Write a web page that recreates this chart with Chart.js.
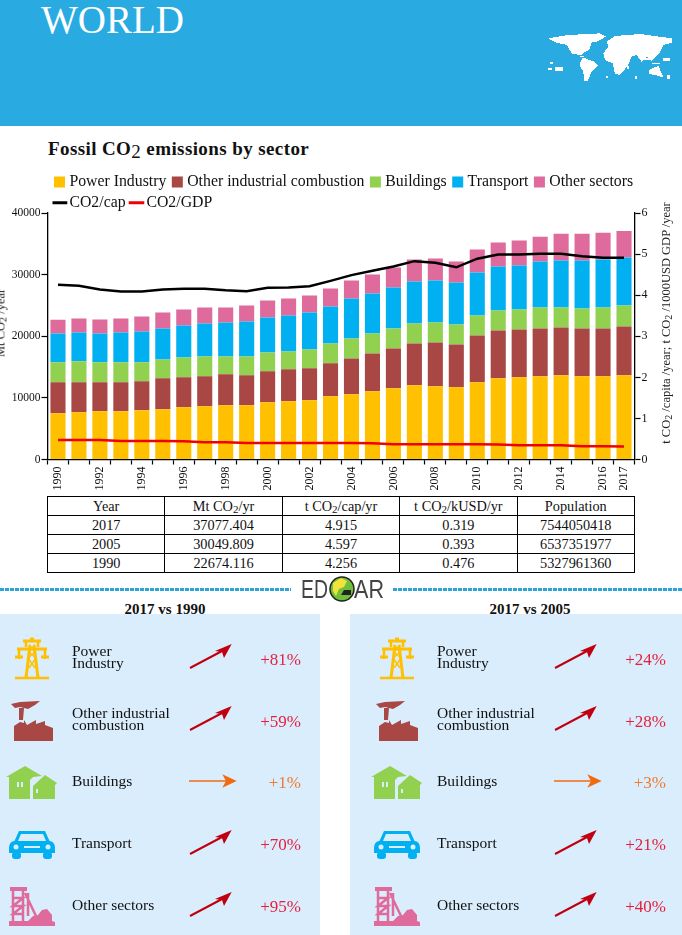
<!DOCTYPE html>
<html>
<head>
<meta charset="utf-8">
<title>WORLD - Fossil CO2 emissions by sector</title>
<script src="https://cdn.jsdelivr.net/npm/chart.js@4"></script>
<style>
html, body { margin: 0; padding: 0; background: #fff; }
body { position: relative; width: 682px; height: 935px; overflow: hidden; font-family: "Liberation Serif", serif; color: #111; }
.abs { position: absolute; }
#head { left: 0; top: 0; width: 682px; height: 126px; background: #29abe2; }
#world { left: 41px; top: -5px; font-size: 39px; color: #fff; line-height: 50px; }
#title { left: 48px; top: 137px; font-size: 19px; font-weight: bold; line-height: 24px; white-space: nowrap; letter-spacing: .4px; }
#title sub { font-size: 19px; font-weight: normal; vertical-align: -3px; line-height: 0; }
#chartBox { left: 0; top: 162px; width: 682px; height: 333px; }
.ytitle { font-size: 12.5px; white-space: nowrap; transform: translate(-50%, -50%) rotate(-90deg); color: #222; }
.ytitle sub { font-size: 10px; vertical-align: -2px; line-height: 0; }
table { left: 47px; top: 496px; width: 588px; height: 75px; border-collapse: collapse; table-layout: fixed; font-size: 14.3px; text-align: center; }
td, th { border: 1.4px solid #000; padding: 0; font-weight: normal; height: 18px; line-height: 16px; }
td sub, th sub { font-size: 11px; vertical-align: -2px; line-height: 0; }
.dots { top: 588px; height: 3px; background: repeating-linear-gradient(90deg, #2ea3d8 0 4px, transparent 4px 5px); }
.panel { top: 614px; height: 321px; background: #daedfd; }
.vs { top: 601px; font-size: 15px; font-weight: bold; width: 200px; text-align: center; line-height: 16px; }
.name { font-size: 15.5px; line-height: 12px; white-space: nowrap; }
.pct { font-size: 17px; width: 60px; text-align: right; line-height: 18px; }
svg { position: absolute; left: 0; top: 0; }
</style>
</head>
<body>
<div class="abs" id="head"></div>
<div class="abs" id="world">WORLD</div>
<div class="abs" id="title">Fossil CO<sub>2</sub> emissions by sector</div>

<div class="abs" id="chartBox"><canvas id="chart" width="682" height="333"></canvas></div>
<div class="abs ytitle" style="left:1px;top:323px">Mt CO<sub>2</sub> /year</div>
<div class="abs ytitle" style="left:666px;top:323px">t CO<sub>2</sub> /capita /year; t CO<sub>2</sub> /1000USD GDP /year</div>

<table class="abs" id="summary"></table>

<div class="abs dots" style="left:0;width:291px"></div>
<div class="abs dots" style="left:393px;width:289px"></div>
<div class="abs panel" style="left:0;width:320px"></div>
<div class="abs panel" style="left:350px;width:332px"></div>
<div class="abs vs" style="left:65px">2017 vs 1990</div>
<div class="abs vs" style="left:430px">2017 vs 2005</div>

<svg width="682" height="935" viewBox="0 0 682 935">
  <!-- map in header -->
  <g transform="translate(500 0) scale(.3333)" fill="#fff" shape-rendering="crispEdges">
    <path d="M145 115L205 105L300 100L318 110L290 125L275 128L268 150L250 158L238 172L262 172L240 166L215 160L200 135L165 127Z"/>
    <path d="M248 172L285 186L294 198L275 215L262 245L252 243L250 215L238 195Z"/>
    <path d="M320 125L345 108L420 102L515 115L515 128L490 135L478 160L455 182L440 170L425 186L410 165L395 170L385 195L360 225L345 222L338 190L315 180L310 160L325 140Z"/>
    <path d="M448 210L475 197L490 232L465 225L448 222Z"/>
    <path d="M145 203h12v6h-12zM165 200h25v12h-25zM150 185h8v6h-8zM430 175h20v5h-20zM455 188h25v5h-25zM490 175h20v8h-20zM500 225h10v12h-10zM380 198h8v10h-8zM405 228h6v8h-6zM318 228h5v5h-5z"/>
  </g>

  <!-- EDGAR logo -->
  <text x="301" y="598" font-family="Liberation Sans" font-size="25" textLength="27" lengthAdjust="spacingAndGlyphs" fill="#444">ED</text>
  <circle cx="342" cy="589" r="12" fill="#6fbf3a" stroke="#222" stroke-width="1.5"/>
  <path d="M333 583l8-5 6 3-3 6-5 2-3 7-3-5Z" fill="#f2e23a"/>
  <path d="M344 590h7v5h-10Z" fill="#222"/>
  <text x="354" y="598" font-family="Liberation Sans" font-size="25" textLength="30" lengthAdjust="spacingAndGlyphs" fill="#444">AR</text>

  <defs>
    <g id="rows">
      <!-- power tower -->
      <g fill="none" stroke="#ffc000">
        <path d="M15 678h34" stroke-width="2.5"/>
        <path d="M26 678L30 645M38 678L34 645" stroke-width="3"/>
        <path d="M29 668L36 658L29 652L35 645M35 668L28 658L35 652L29 645" stroke-width="1.4"/>
        <path d="M23 641h18M17 649h30M15 657h8M41 657h8M30 639h4" stroke-width="3"/>
        <path d="M19 649v10M45 649v10M26 641v6M38 641v6" stroke-width="2.5"/>
      </g>
      <!-- factory -->
      <g fill="#a94744">
        <path d="M11 704L20 702L40 701L35 705L28 709L20 707L15 708Z"/>
        <path d="M19 708h5l-1 12h-4Z"/>
        <path d="M14 726L20 722L24 723V720L27 725L36 720V724L45 721V725L53 728V741H14Z"/>
      </g>
      <!-- houses -->
      <g fill="#92d050">
        <path d="M6 777L25 766L42 776L33 777L30 780V799H9V777Z"/>
        <path d="M33 786L45 775L57 783L55 785V799H33Z"/>
        <path d="M17 782h2v5h-2zM21 782h2v5h-2z" fill="#daedfd"/>
        <path d="M36 789h2v4h-2z" fill="#daedfd"/>
      </g>
      <!-- car -->
      <g fill="#00b0f0">
        <path d="M19 831H45L50 842H14Z M21 834L18 841H46L43 834Z" fill-rule="evenodd"/>
        <path d="M9 848Q9 842 14 841H50Q55 842 55 848V853H9Z"/>
        <rect x="12" y="852" width="9" height="7" rx="3"/>
        <rect x="43" y="852" width="9" height="7" rx="3"/>
        <circle cx="16" cy="847" r="2.5" fill="#daedfd"/>
        <circle cx="48" cy="847" r="2.5" fill="#daedfd"/>
        <rect x="24" y="846" width="16" height="2" fill="#daedfd"/>
      </g>
      <!-- mine -->
      <g fill="#df6a9c" stroke="#df6a9c">
        <path d="M10 887h17v4H10Z" stroke-width="0"/>
        <path d="M13 891V922M23 891V922M13 898H23L13 906H23L13 914H23" fill="none" stroke-width="2.5"/>
        <path d="M25 893L36 916M28 893V916" fill="none" stroke-width="2.5"/>
        <path d="M9 921H28L33 916L38 915L42 910L47 909L52 915L52 921L55 922V926H9Z" stroke-width="0"/>
      </g>
      <!-- arrows -->
      <use href="#up" x="190" y="668"/>
      <use href="#up" x="190" y="730"/>
      <use href="#flat" x="189" y="781"/>
      <use href="#up" x="190" y="854"/>
      <use href="#up" x="190" y="916"/>
    </g>
    <g id="up">
      <path d="M0 0L33 -17.5" stroke="#c00010" stroke-width="2"/>
      <path d="M25 -17L41.7 -24L34 -10L32 -16Z" fill="#c00010"/>
    </g>
    <g id="flat">
      <path d="M0 0H38" stroke="#f26a10" stroke-width="1.6"/>
      <path d="M33.3 -6.7L47.7 0L33.3 6.7L37 0Z" fill="#f26a10"/>
    </g>
  </defs>
  <use href="#rows"/>
  <use href="#rows" x="365"/>
</svg>
<div id="rowText"></div>

<script>
const years = [1990,1991,1992,1993,1994,1995,1996,1997,1998,1999,2000,2001,2002,2003,2004,2005,2006,2007,2008,2009,2010,2011,2012,2013,2014,2015,2016,2017];
const shownYears = [1990,1992,1994,1996,1998,2000,2002,2004,2006,2008,2010,2012,2014,2016,2017];

// Mt CO2 / yr
const powerIndustry = [7506,7668,7830,7830,7992,8154,8478,8640,8802,8802,9288,9450,9612,10260,10584,11070,11556,12042,11880,11718,12528,13176,13338,13500,13662,13500,13500,13662];
const otherIndustrial = [5022,4860,4698,4698,4698,5022,4860,4860,5022,4860,5022,5184,5184,5346,5832,6156,6480,6804,7128,6966,7614,7776,7776,7776,7776,7776,7776,7938];
const buildings = [3240,3402,3240,3240,3078,3078,3240,3240,2916,3078,3078,2916,3078,3240,3240,3240,3240,3240,3240,3240,3240,3240,3240,3402,3240,3240,3402,3402];
const transport = [4698,4698,4698,4860,5022,5022,5184,5346,5508,5670,5670,5832,5994,5994,6480,6480,6642,6804,6804,6804,6966,7128,7128,7452,7614,7776,7776,7776];
const otherSectors = [2208,2268,2268,2268,2430,2592,2592,2592,2430,2592,2754,2754,2754,2916,2916,3104,3240,3564,3564,3402,3726,3888,4050,4050,4374,4374,4374,4299];

// right axis
const co2PerCap = [4.256,4.23,4.14,4.09,4.09,4.14,4.16,4.16,4.12,4.10,4.18,4.19,4.22,4.35,4.49,4.597,4.70,4.83,4.79,4.68,4.89,4.99,4.99,5.01,5.01,4.95,4.91,4.915];
const co2PerGdp = [0.476,0.476,0.475,0.45,0.45,0.448,0.445,0.42,0.42,0.40,0.40,0.40,0.40,0.40,0.40,0.393,0.37,0.37,0.37,0.37,0.37,0.365,0.35,0.35,0.35,0.325,0.322,0.319];

const tableHead = ['Year','Mt CO<sub>2</sub>/yr','t CO<sub>2</sub>/cap/yr','t CO<sub>2</sub>/kUSD/yr','Population'];
const tableRows = [
  ['2017','37077.404','4.915','0.319','7544050418'],
  ['2005','30049.809','4.597','0.393','6537351977'],
  ['1990','22674.116','4.256','0.476','5327961360']
];

const sectorNames = ['Power<br>Industry','Other industrial<br>combustion','Buildings','Transport','Other sectors'];
const nameTops = [645,707,775,837,899];
const pctTops = [651,713,774,836,898];
const pct1990 = ['+81%','+59%','+1%','+70%','+95%'];
const pct2005 = ['+24%','+28%','+3%','+21%','+40%'];

let html = '<tr>' + tableHead.map(h => '<th>' + h + '</th>').join('') + '</tr>';
tableRows.forEach(r => { html += '<tr>' + r.map(c => '<td>' + c + '</td>').join('') + '</tr>'; });
document.getElementById('summary').innerHTML = html;

let rowHtml = '';
sectorNames.forEach((n, i) => {
  [[0, pct1990], [365, pct2005]].forEach(p => {
    let col = i == 2 ? '#f07a30' : '#e5203c';
    rowHtml += '<div class="abs name" style="left:' + (72 + p[0]) + 'px;top:' + nameTops[i] + 'px">' + n + '</div>';
    rowHtml += '<div class="abs pct" style="left:' + (241 + p[0]) + 'px;top:' + pctTops[i] + 'px;color:' + col + '">' + p[1][i] + '</div>';
  });
});
document.getElementById('rowText').innerHTML = rowHtml;

Chart.defaults.font.family = '"Liberation Serif", serif';
Chart.defaults.color = '#111';

function bars(label, data, color) {
  return { type: 'bar', label: label, data: data, backgroundColor: color, borderWidth: 0, stack: 's', order: 2, categoryPercentage: 1, barPercentage: 0.72 };
}
function line(label, data, color) {
  return { type: 'line', label: label, data: data, borderColor: color, backgroundColor: color, borderWidth: 2.5, pointRadius: 0, tension: 0, yAxisID: 'y1', order: 1 };
}

new Chart(document.getElementById('chart'), {
  data: {
    labels: years,
    datasets: [
      bars('Power Industry', powerIndustry, '#ffc000'),
      bars('Other industrial combustion', otherIndustrial, '#a94744'),
      bars('Buildings', buildings, '#92d050'),
      bars('Transport', transport, '#00b0f0'),
      bars('Other sectors', otherSectors, '#df6a9c'),
      line('CO2/cap', co2PerCap, '#000000'),
      line('CO2/GDP', co2PerGdp, '#f00000')
    ]
  },
  options: {
    responsive: false,
    animation: false,
    layout: { padding: { top: -0.5, bottom: 0, left: 0, right: 0 } },
    plugins: {
      tooltip: { enabled: false },
      legend: {
        position: 'top',
        align: 'start',
        fullSize: false,
        labels: {
          usePointStyle: true,
          boxWidth: 4,
          boxHeight: 11,
          padding: 5,
          color: '#111',
          font: { size: 15.8 },
          sort: (a, b) => a.datasetIndex - b.datasetIndex,
          generateLabels(chart) {
            let items = Chart.defaults.plugins.legend.labels.generateLabels(chart);
            items.forEach(it => {
              let isLine = it.datasetIndex > 4;
              it.pointStyle = isLine ? 'line' : 'rect';
              it.lineWidth = isLine ? 3 : 0;
              it.strokeStyle = chart.data.datasets[it.datasetIndex].borderColor;
              it.text += '\u00a0';
            });
            return items;
          }
        }
      }
    },
    scales: {
      x: {
        stacked: true,
        offset: true,
        border: { color: '#000', width: 1.3 },
        grid: { offset: true, drawOnChartArea: false, color: '#000', tickLength: 5, tickWidth: 1.2 },
        ticks: {
          autoSkip: false, minRotation: 90, maxRotation: 90, padding: 2, color: '#111', font: { size: 12 },
          callback(v) { let y = this.getLabelForValue(v); return shownYears.includes(y) ? String(y) : ''; }
        },
        afterFit(s) { s.height = 35.5; }
      },
      y: {
        stacked: true,
        min: 0, max: 40000,
        position: 'left',
        border: { color: '#000', width: 1.3 },
        grid: { drawOnChartArea: false, color: '#000', tickLength: 6, tickWidth: 1.2 },
        ticks: { stepSize: 10000, padding: 1, color: '#111', font: { size: 11.5 }, callback: v => String(v) },
        afterFit(s) { s.width = 47.5; }
      },
      y1: {
        min: 0, max: 6,
        position: 'right',
        border: { color: '#000', width: 1.3 },
        grid: { drawOnChartArea: false, color: '#000', tickLength: 6, tickWidth: 1.2 },
        ticks: { stepSize: 1, padding: 1, color: '#111', font: { size: 12 } },
        afterFit(s) { s.width = 47.5; }
      }
    }
  },
  plugins: [{
    id: 'legendPlace',
    afterLayout(chart) {
      // the draw step wraps rows against legend.right, so widen it to keep five items on the first row
      chart.legend.left += 5;
      chart.legend.right = 682;
      chart.legend.top = 7;
    }
  }]
});
</script>
</body>
</html>
